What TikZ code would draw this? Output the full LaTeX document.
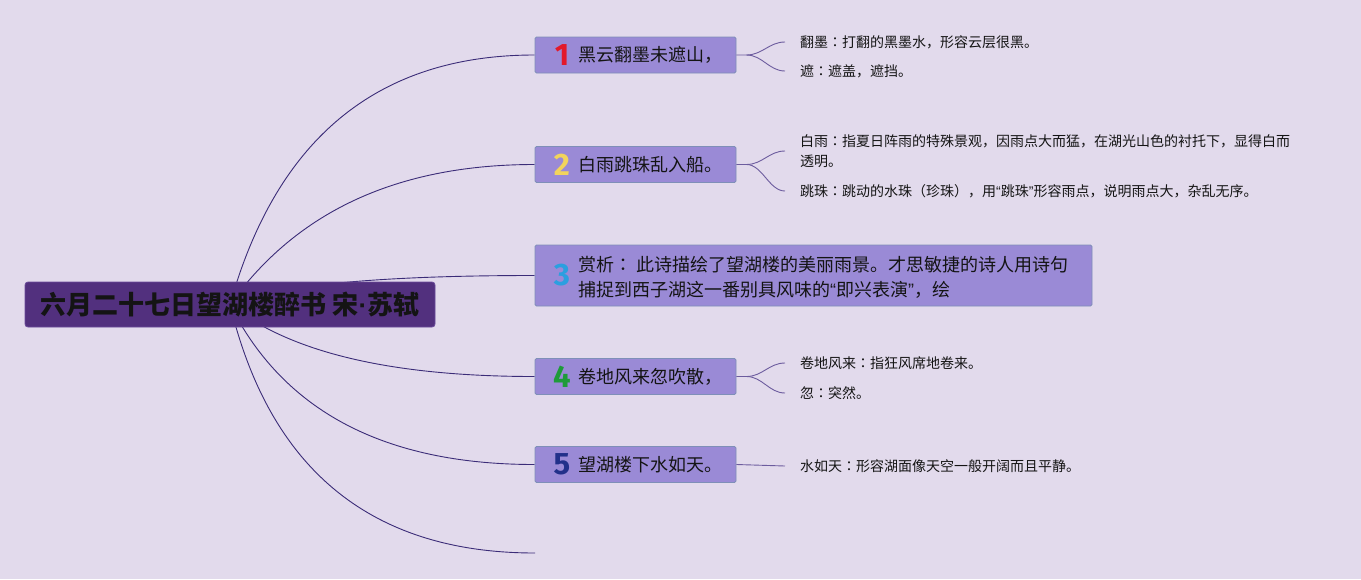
\documentclass[tikz,border=0pt]{standalone}
\usepackage{fontspec}
\setmainfont{Noto Sans CJK SC}
\newfontfamily\numfont{Fira Sans}
\newfontfamily\latfont{Liberation Sans}
\newfontfamily\jpfont{Noto Sans CJK JP}
\newcommand\jcolon{{\jpfont ：}}
\newcommand\myoq{{\latfont “}}
\newcommand\mycq{{\latfont ”}}
\definecolor{bgcol}{HTML}{E2DAEC}
\definecolor{rootfill}{HTML}{52307E}
\definecolor{rootdraw}{HTML}{6B4C9A}
\definecolor{nodefill}{HTML}{9A8AD6}
\definecolor{nodedraw}{HTML}{7F8FB8}
\definecolor{linkcol}{HTML}{3B2C78}
\definecolor{anncol}{HTML}{6C5C9E}
\definecolor{numa}{HTML}{E3192B}
\definecolor{numb}{HTML}{F2D45C}
\definecolor{numc}{HTML}{2B9FE0}
\definecolor{numd}{HTML}{1E9B3A}
\definecolor{nume}{HTML}{22308A}
\definecolor{txt}{HTML}{141414}
\pgfdeclarelayer{back}
\pgfdeclarelayer{lines}
\pgfsetlayers{back,lines,main}
\begin{document}
\begin{tikzpicture}[x=1pt,y=-1pt,
  rootbox/.style={fill=rootfill, draw=rootdraw, line width=0.8pt, rounded corners=3pt,
    minimum width=410pt, minimum height=45pt, inner sep=0pt, text=txt,
    font=\bfseries\fontsize{26pt}{30pt}\selectfont},
  branchbox/.style={fill=nodefill, draw=nodedraw, line width=0.9pt, rounded corners=1.5pt,
    inner sep=0pt},
  numtxt/.style={font=\numfont\bfseries\fontsize{31pt}{31pt}\selectfont, inner sep=0pt},
  btext/.style={font=\fontsize{18pt}{25pt}\selectfont, anchor=west, inner sep=0pt,
    text=txt, align=left},
  anntext/.style={font=\fontsize{14pt}{20pt}\selectfont, anchor=west, inner xsep=15pt,
    inner ysep=0pt, align=left, text=txt},
  link/.style={draw=linkcol, line width=0.9pt},
  annlink/.style={draw=anncol, line width=0.9pt}
]
\useasboundingbox (0,0) rectangle (1361,579);
\begin{pgfonlayer}{back}
  \fill[bgcol] (0,0) rectangle (1361,579);
\end{pgfonlayer}

% root
\node[rootbox] (root) at (230,304.5) {六月二十七日望湖楼醉书 宋{\latfont\bfseries ·}苏轼};

% branch boxes
\node[branchbox, minimum width=201pt, minimum height=36pt] (n1) at (635.5,55) {};
\node[numtxt, text=numa] (d1) at (562,55) {1};
\node[btext] (t1) at (578,55) {黑云翻墨未遮山，};

\node[branchbox, minimum width=201pt, minimum height=36pt] (n2) at (635.5,164.5) {};
\node[numtxt, text=numb] (d2) at (562,164.5) {2};
\node[btext] (t2) at (578,164.5) {白雨跳珠乱入船。};

\node[branchbox, minimum width=557pt, minimum height=61pt] (n3) at (813.5,275.5) {};
\node[numtxt, text=numc] (d3) at (562,275.5) {3};
\node[btext] (t3) at (578,277) {赏析\jcolon{} 此诗描绘了望湖楼的美丽雨景。才思敏捷的诗人用诗句\\捕捉到西子湖这一番别具风味的\myoq 即兴表演\mycq ，绘};

\node[branchbox, minimum width=201pt, minimum height=36pt] (n4) at (635.5,376.5) {};
\node[numtxt, text=numd] (d4) at (562,376.5) {4};
\node[btext] (t4) at (578,376.5) {卷地风来忽吹散，};

\node[branchbox, minimum width=201pt, minimum height=36pt] (n5) at (635.5,464.5) {};
\node[numtxt, text=nume] (d5) at (562,464.5) {5};
\node[btext] (t5) at (578,464.5) {望湖楼下水如天。};

\coordinate (end6) at (535,553);

% annotations
\node[anntext] (a11) at (785,42) {翻墨\jcolon 打翻的黑墨水，形容云层很黑。};
\node[anntext] (a12) at (785,71) {遮\jcolon 遮盖，遮挡。};
\node[anntext] (a21) at (785,151) {白雨\jcolon 指夏日阵雨的特殊景观，因雨点大而猛，在湖光山色的衬托下，显得白而\\透明。};
\node[anntext] (a22) at (785,191) {跳珠\jcolon 跳动的水珠（珍珠），用\myoq 跳珠\mycq 形容雨点，说明雨点大，杂乱无序。};
\node[anntext] (a41) at (785,363) {卷地风来\jcolon 指狂风席地卷来。};
\node[anntext] (a42) at (785,393) {忽\jcolon 突然。};
\node[anntext] (a51) at (785,466) {水如天\jcolon 形容湖面像天空一般开阔而且平静。};

\begin{pgfonlayer}{lines}
  \draw[link] (root.center) .. controls +(46.7,-166.3) and +(-156.7,0) .. (n1.west);
  \draw[link] (root.center) .. controls +(66.7,-93.3) and +(-136.7,0) .. (n2.west);
  \draw[link] (root.center) .. controls +(46.7,-19.3) and +(-156.7,0) .. (n3.west);
  \draw[link] (root.center) .. controls +(60,48) and +(-143.3,0) .. (n4.west);
  \draw[link] (root.center) .. controls +(53.3,106.7) and +(-150,0) .. (n5.west);
  \draw[link] (root.center) .. controls +(40,165.7) and +(-163.3,0) .. (end6);
\end{pgfonlayer}

% annotation connectors
\draw[annlink] (n1.east) -- ++(10,0) coordinate (f1) .. controls +(16,0) and +(-16,0) .. (a11.west);
\draw[annlink] (f1) .. controls +(16,0) and +(-16,0) .. (a12.west);
\draw[annlink] (n2.east) -- ++(10,0) coordinate (f2) .. controls +(16,0) and +(-16,0) .. (a21.west);
\draw[annlink] (f2) .. controls +(16,0) and +(-16,0) .. (a22.west);
\draw[annlink] (n4.east) -- ++(10,0) coordinate (f4) .. controls +(16,0) and +(-16,0) .. (a41.west);
\draw[annlink] (f4) .. controls +(16,0) and +(-16,0) .. (a42.west);
\draw[annlink] (n5.east) -- (a51.west);
\end{tikzpicture}
\end{document}
